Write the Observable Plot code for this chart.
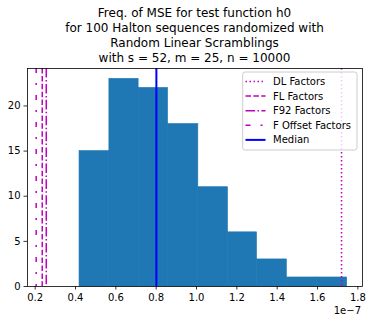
<!DOCTYPE html>
<html>
<head>
<meta charset="utf-8">
<script src="https://cdn.jsdelivr.net/npm/d3@7"></script>
<script src="https://cdn.jsdelivr.net/npm/@observablehq/plot@0.6"></script>
<style>
  html, body { margin: 0; padding: 0; background: #fff; }
  #chart { width: 372px; height: 322px; }
  svg text { font-family: "DejaVu Sans", sans-serif; }
</style>
</head>
<body>
<div id="chart"></div>
<script>
// ---- data (x values in units of 1e-7) ----
const titleLines = [
  "Freq. of MSE for test function h0",
  "for 100 Halton sequences randomized with",
  "Random Linear Scramblings",
  "with s = 52, m = 25, n = 10000"
];
const binEdges = [0.420, 0.568, 0.713, 0.859, 1.009, 1.156, 1.300, 1.448, 1.597, 1.747];
const counts = [15, 23, 22, 18, 11, 6, 3, 1, 1];
const dlFactors = [1.719];
const flFactors = [0.235];
const f92Factors = [0.255];
const fOffsetFactors = [0.205];
const medianValue = [0.801];
const xTicks = [0.2, 0.4, 0.6, 0.8, 1.0, 1.2, 1.4, 1.6, 1.8];
const yTicks = [0, 5, 10, 15, 20];
const legendLabels = ["DL Factors", "FL Factors", "F92 Factors", "F Offset Factors", "Median"];
const offsetLabel = "1e\u22127";

// ---- styles ----
const magenta = "#bf00bf";
const barColor = "#1f77b4";
const dashes = {
  dl: "1.5,2.5",
  fl: "5.5,2.4",
  f92: "9.6,2.4,1.5,2.4",
  foff: "5,10,2,10"
};

const bins = counts.map((c, i) => ({x1: binEdges[i], x2: binEdges[i + 1], y: c}));

const W = 372, H = 322;
const mL = 27, mR = 10, mT = 68, mB = 36;

const plot = Plot.plot({
  width: W,
  height: H,
  marginLeft: mL,
  marginRight: mR,
  marginTop: mT,
  marginBottom: mB,
  style: {fontFamily: "DejaVu Sans, sans-serif", fontSize: "10px", color: "#000", background: "#fff"},
  x: {domain: [0.162, 1.823]},
  y: {domain: [0, 24.15]},
  marks: [
    Plot.rectY(bins, {x1: "x1", x2: "x2", y: "y", fill: barColor, stroke: barColor, strokeWidth: 0.6, inset: 0}),
    Plot.ruleX(dlFactors, {stroke: magenta, strokeWidth: 1.5, strokeDasharray: dashes.dl}),
    Plot.ruleX(flFactors, {stroke: magenta, strokeWidth: 1.5, strokeDasharray: dashes.fl}),
    Plot.ruleX(f92Factors, {stroke: magenta, strokeWidth: 1.5, strokeDasharray: dashes.f92}),
    Plot.ruleX(fOffsetFactors, {stroke: magenta, strokeWidth: 1.5, strokeDasharray: dashes.foff}),
    Plot.ruleX(medianValue, {stroke: "#0000ff", strokeWidth: 2}),
    Plot.axisX({ticks: xTicks, tickFormat: d => d.toFixed(1), tickSize: 3.5, tickPadding: 3.5, fontSize: 10, label: null, stroke: "#000", strokeWidth: 0.8}),
    Plot.axisY({ticks: yTicks, tickFormat: d => String(d), tickSize: 3.5, tickPadding: 3.5, fontSize: 10, label: null, stroke: "#000", strokeWidth: 0.8}),
    Plot.frame({stroke: "#000", strokeWidth: 0.8})
  ]
});
document.getElementById("chart").appendChild(plot);

const svg = d3.select(plot);
const cx = mL + (W - mL - mR) / 2;

// title
const title = svg.append("text")
  .attr("text-anchor", "middle")
  .attr("font-size", 12)
  .attr("fill", "#000");
titleLines.forEach((t, i) => {
  title.append("tspan").attr("x", cx).attr("y", 17.3 + i * 14.8).text(t);
});

// offset text
svg.append("text")
  .attr("x", W - mR - 1)
  .attr("y", 314)
  .attr("text-anchor", "end")
  .attr("font-size", 10)
  .attr("fill", "#000")
  .text(offsetLabel);

// legend
const legendStyles = [
  {stroke: magenta, w: 1.5, dash: dashes.dl},
  {stroke: magenta, w: 1.5, dash: dashes.fl},
  {stroke: magenta, w: 1.5, dash: dashes.f92},
  {stroke: magenta, w: 1.5, dash: dashes.foff},
  {stroke: "#0000ff", w: 2, dash: null}
];
const lg = svg.append("g").attr("text-anchor", "start");
lg.append("rect")
  .attr("x", 242.7).attr("y", 72).attr("width", 114.3).attr("height", 78)
  .attr("rx", 2.5).attr("ry", 2.5)
  .style("fill", "#ffffff").style("fill-opacity", 0.8)
  .style("stroke", "#cccccc").style("stroke-width", 1);
legendLabels.forEach((lab, i) => {
  const y = 81.5 + i * 14.6;
  const s = legendStyles[i];
  const ln = lg.append("line")
    .attr("x1", 245.5).attr("x2", 265.5).attr("y1", y).attr("y2", y)
    .style("stroke", s.stroke).style("stroke-width", s.w);
  if (s.dash) ln.style("stroke-dasharray", s.dash);
  lg.append("text")
    .attr("x", 273).attr("y", y).attr("dy", "0.35em")
    .attr("text-anchor", "start")
    .attr("font-size", 10).style("fill", "#000")
    .text(lab);
});
</script>
</body>
</html>
